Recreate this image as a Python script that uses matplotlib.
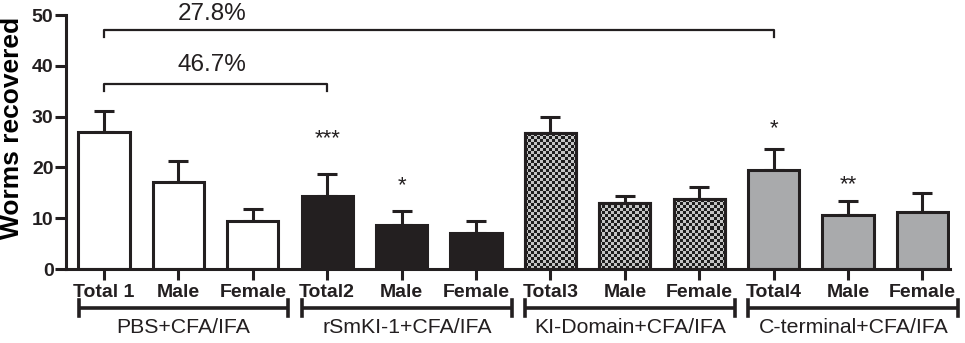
import numpy as np
import matplotlib
matplotlib.use("Agg")
import matplotlib.pyplot as plt

plt.rcParams['font.family'] = ['Liberation Sans', 'DejaVu Sans']

tick_labels = ["Total 1", "Male", "Female", "Total2", "Male", "Female",
               "Total3", "Male", "Female", "Total4", "Male", "Female"]
means = [27.0, 17.1, 9.5, 14.4, 8.7, 7.0, 26.8, 13.0, 13.8, 19.4, 10.6, 11.3]
upper = [31.1, 21.3, 11.8, 18.7, 11.5, 9.5, 30.0, 14.4, 16.1, 23.6, 13.4, 14.9]
groups = ["PBS+CFA/IFA", "rSmKI-1+CFA/IFA", "KI-Domain+CFA/IFA", "C-terminal+CFA/IFA"]
group_style = ["white", "black", "check", "grey"]
stars = {3: "***", 4: "*", 9: "*", 10: "**"}
star_y = {3: 24.6, 4: 15.3, 9: 26.5, 10: 15.5}
brackets = [(0, 9, 47.0, "27.8%"), (0, 3, 36.4, "46.7%")]

fig = plt.figure(figsize=(9.65, 3.43), dpi=100)
ax = fig.add_axes([66/965, (343-269)/343, (950-66)/965, (269-15)/343])

x = np.arange(len(means))
errs = np.array(upper) - np.array(means)
face_map = {"white": "white", "black": "#231f20", "check": "#bdbdbd", "grey": "#a9aaac"}
faces = []
for i in range(len(means)):
    faces.append(face_map[group_style[i // 3]])

bars = ax.bar(x, means, width=0.69, color=faces, edgecolor="#231f20", linewidth=2.2, zorder=2)
ax.errorbar(x, means, yerr=[np.zeros_like(errs), errs], fmt="none", ecolor="#231f20",
            elinewidth=2.2, capsize=7.5, capthick=2.2, zorder=1)

# checkerboard fill for KI-Domain bars
cx = 3 / 74.4
cy = 3 / 5.08
for i in range(len(means)):
    if group_style[i // 3] == "check":
        b = bars[i]
        x0, w, h = b.get_x(), b.get_width(), b.get_height()
        nx = int(np.ceil(w / cx))
        ny = int(np.ceil(h / cy))
        ii, jj = np.meshgrid(np.arange(nx), np.arange(ny))
        board = ((ii + jj) % 2).astype(float)
        im = ax.imshow(board, cmap=matplotlib.colors.ListedColormap(["#c4c4c4", "#1e1e1e"]),
                       extent=[x0, x0 + nx * cx, 0, ny * cy], origin="lower",
                       interpolation="nearest", aspect="auto", zorder=2.5)
        im.set_clip_path(b)
        ax.bar([x[i]], [means[i]], width=0.69, color="none", edgecolor="#231f20",
               linewidth=2.2, zorder=3)

ax.set_xlim(-0.51, 11.37)
ax.set_ylim(0, 50)
ax.set_yticks([0, 10, 20, 30, 40, 50])
ax.set_xticks(x)
ax.set_xticklabels(tick_labels, fontsize=14, fontweight="bold")
for lab in ax.get_yticklabels():
    lab.set_fontsize(14)
    lab.set_fontweight("bold")
ax.tick_params(axis="both", width=2.2, length=8, direction="out", colors="#231f20")
ax.tick_params(axis="x", pad=3)
ax.tick_params(axis="y", pad=1)
for s in ["top", "right"]:
    ax.spines[s].set_visible(False)
for s in ["left", "bottom"]:
    ax.spines[s].set_linewidth(2.2)
    ax.spines[s].set_color("#231f20")
ax.set_ylabel("Worms recovered", fontsize=19, fontweight="bold")
ax.yaxis.set_label_coords(-0.048, 0.555)

# significance stars
for i, s in stars.items():
    ax.text(x[i], star_y[i], s, ha="center", va="baseline", fontsize=16, color="#231f20")

# comparison brackets
for a, b2, yb, txt in brackets:
    ax.plot([x[a], x[a], x[b2], x[b2]], [yb - 1.3, yb, yb, yb - 1.3], color="#231f20",
            lw=1.6, clip_on=False)
ytxt = {"27.8%": 50.2, "46.7%": 40.2}
for a, b2, yb, txt in brackets:
    ax.text(1.45, ytxt[txt], txt, ha="center", va="center", fontsize=17.5, color="#231f20",
            clip_on=False)

# group brackets below axis
for g, name in enumerate(groups):
    lo = x[3 * g] - 0.34
    hi = x[3 * g + 2] + 0.48
    yb = -7.7
    ax.plot([lo, hi], [yb, yb], color="#231f20", lw=2.6, clip_on=False, solid_capstyle="butt")
    ax.plot([lo, lo], [yb - 1.5, yb + 1.5], color="#231f20", lw=2.6, clip_on=False)
    ax.plot([hi, hi], [yb - 1.5, yb + 1.5], color="#231f20", lw=2.6, clip_on=False)
    ax.text((lo + hi) / 2, -11.5, name, ha="center", va="center", fontsize=15.3,
            color="#231f20", clip_on=False)

fig.savefig("out.png", dpi=100)
